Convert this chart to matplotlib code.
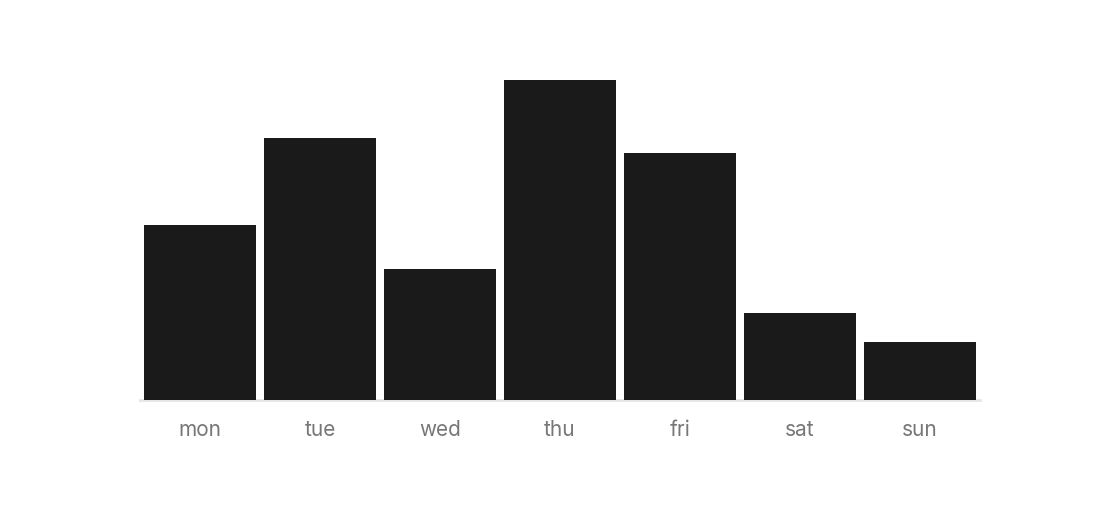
import matplotlib
matplotlib.use("Agg")
import matplotlib.pyplot as plt

days = ["mon", "tue", "wed", "thu", "fri", "sat", "sun"]
values = [60, 90, 45, 110, 85, 30, 20]

plt.rcParams['font.family'] = ['Inter', 'DejaVu Sans']

fig = plt.figure(figsize=(11.2, 5.2), dpi=100)
ax = fig.add_axes([140/1120, 120/520, 840/1120, 320/520])

bars = ax.bar(range(len(days)), values, width=112/120, color="#1a1a1a", zorder=3)
ax.set_xlim(-0.5, len(days) - 0.5)
ax.set_ylim(0, max(values))

for s in ["top", "right", "left"]:
    ax.spines[s].set_visible(False)
ax.spines["bottom"].set_color("#e6e6e6")
ax.spines["bottom"].set_linewidth(2)
ax.spines["bottom"].set_zorder(1)
ax.set_yticks([])
ax.set_xticks(range(len(days)))
ax.set_xticklabels(days, fontsize=15, color="#777777")
ax.tick_params(axis="x", length=0, pad=14.5)

fig.savefig("out.png", dpi=100, facecolor="white")
